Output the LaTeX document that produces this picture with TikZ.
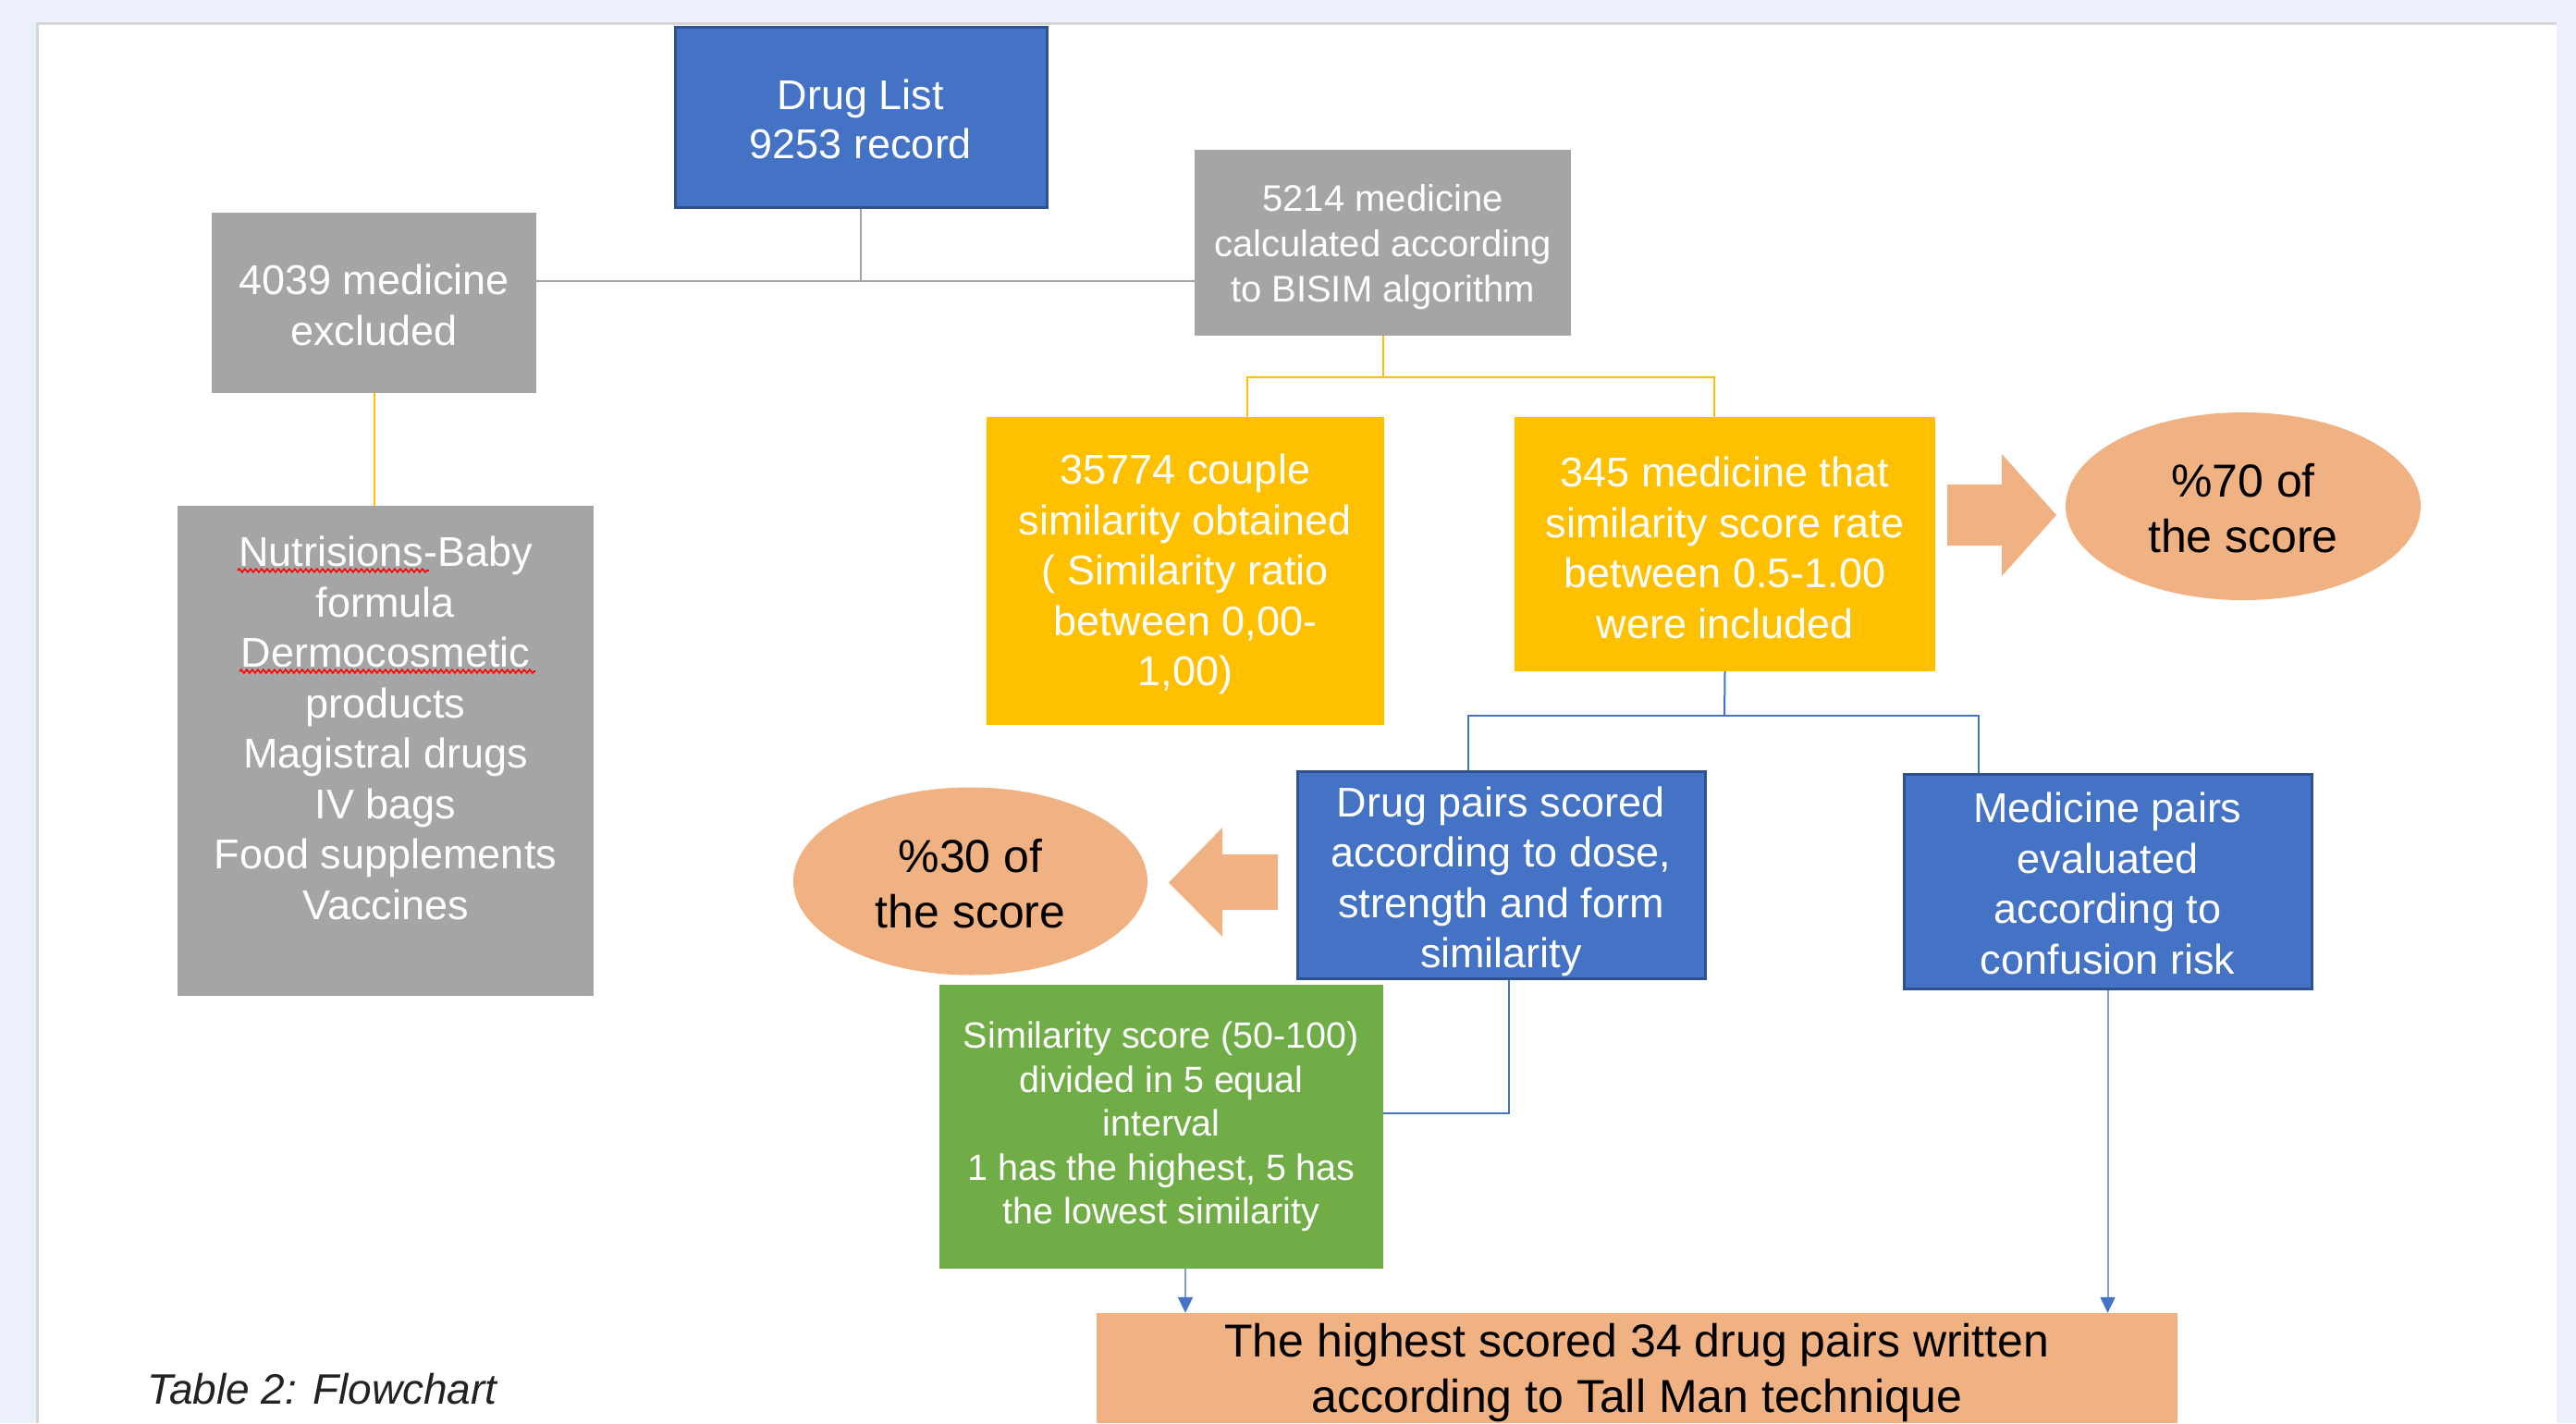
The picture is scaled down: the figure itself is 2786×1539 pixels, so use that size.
\documentclass[tikz,border=0pt]{standalone}
\usepackage{fontspec}
\setmainfont{Liberation Sans}
\usetikzlibrary{shapes.geometric,arrows.meta,decorations.pathmorphing}
\definecolor{bgblue}{HTML}{ECF0FA}
\definecolor{pageedge}{HTML}{D6D6D6}
\definecolor{offblue}{HTML}{4472C4}
\definecolor{offblueedge}{HTML}{2F528F}
\definecolor{offgray}{HTML}{A5A5A5}
\definecolor{offyellow}{HTML}{FFC000}
\definecolor{offorange}{HTML}{F0B183}
\definecolor{offgreen}{HTML}{70AD47}
\definecolor{lightlink}{HTML}{7C9EDC}
\definecolor{captiongray}{HTML}{222222}
\newcommand\tp[1]{\rule{0pt}{#1}}
\tikzset{
  box/.style={rectangle, inner sep=0pt, align=center, text=white, font=\fontsize{45}{54.5}\selectfont},
  bluebox/.style={box, fill=offblue, draw=offblueedge, line width=3pt},
  graybox/.style={box, fill=offgray},
  yellowbox/.style={box, fill=offyellow},
  greenbox/.style={box, fill=offgreen},
  blob/.style={ellipse, inner sep=0pt, fill=offorange, align=center, text=black, font=\fontsize{50}{60}\selectfont},
  fatarrow/.style={fill=offorange},
  grayline/.style={draw=offgray, line width=2pt},
  yellowline/.style={draw=offyellow, line width=2pt},
  blueline/.style={draw=offblue, line width=2pt},
  flowarrow/.style={draw=lightlink, line width=2pt, -{Triangle[length=17pt,width=16pt,color=offblue]}},
  squiggle/.style={draw=red, line width=1.6pt, decorate, decoration={snake, amplitude=1.8pt, segment length=6pt}}
}
\begin{document}
\begin{tikzpicture}[x=1pt,y=-1pt]
\useasboundingbox (0,0) rectangle (2786,1539);
% page
\fill[bgblue] (0,0) rectangle (2786,1539);
\fill[white] (40,25) rectangle (2765,1539);
\draw[pageedge, line width=2.5pt] (40.5,1539) -- (40.5,25.5) -- (2765,25.5);

% boxes
\node[bluebox, minimum width=402pt, minimum height=195pt, font=\fontsize{45}{53.5}\selectfont] (drug) at (931,126.5) {\tp{37pt}Drug List\\9253 record};
\node[graybox, minimum width=351pt, minimum height=195pt] (excl) at (404.5,327.5) {\tp{37pt}4039 medicine\\excluded};
\node[graybox, minimum width=407pt, minimum height=201pt, font=\fontsize{40}{49}\selectfont] (bisim) at (1495.5,262.5) {\tp{39pt}5214 medicine\\calculated according\\to BISIM algorithm};
\node[yellowbox, minimum width=430pt, minimum height=333pt] (couple) at (1282,617.5) {\tp{40pt}35774 couple\\similarity obtained\\( Similarity ratio\\between 0,00-\\1,00)};
\node[yellowbox, minimum width=455pt, minimum height=275pt] (incl) at (1865.5,588.5) {\tp{40pt}345 medicine that\\similarity score rate\\between 0.5-1.00\\were included};
\node[graybox, minimum width=450pt, minimum height=530pt] (list) at (417,812) {\tp{37pt}Nutrisions-Baby\\formula\\Dermocosmetic\\products\\Magistral drugs\\IV bags\\Food supplements\\Vaccines\\~};
\node[blob, minimum width=384pt, minimum height=203pt] (pct70) at (2426,547.5) {\tp{40.5pt}\%70 of\\the score};
\node[bluebox, minimum width=441pt, minimum height=224pt] (drugpairs) at (1623.5,946) {\tp{47pt}Drug pairs scored\\according to dose,\\strength and form\\similarity};
\node[bluebox, minimum width=441pt, minimum height=232pt] (medpairs) at (2279.5,953) {\tp{37pt}Medicine pairs\\evaluated\\according to\\confusion risk};
\node[blob, minimum width=383pt, minimum height=203pt] (pct30) at (1049.5,953) {\tp{40.5pt}\%30 of\\the score};
\node[greenbox, minimum width=480pt, minimum height=307pt, font=\fontsize{39.5}{47.5}\selectfont] (green) at (1256,1218.5) {Similarity score (50-100)\\divided in 5 equal\\interval\\1 has the highest, 5 has\\the lowest similarity};
\node[box, fill=offorange, text=black, minimum width=1169pt, minimum height=119pt, font=\fontsize{50}{60}\selectfont] (tallman) at (1770.5,1479.5) {\tp{46.5pt}The highest scored 34 drug pairs written\\according to Tall Man technique};
\node[anchor=base west, inner sep=0pt, text=captiongray, font=\fontsize{46}{55}\selectfont\itshape] (caption) at (159,1518) {Table 2: Flowchart};

% spell-check squiggles
\draw[squiggle] (257,617) -- (464,617);
\draw[squiggle] (259,726) -- (579,726);

% block arrows
\path[fatarrow] (2106,524) -- (2165,524) -- (2165,491) -- (2224,557) -- (2165,623) -- (2165,590) -- (2106,590) -- cycle;
\path[fatarrow] (1382,924) -- (1322,924) -- (1322,895) -- (1264,954.5) -- (1322,1013) -- (1322,984) -- (1382,984) -- cycle;

% connectors
\coordinate (j1) at (931,303.5);
\draw[grayline] (drug.south) -- (j1);
\draw[grayline] (excl.east |- j1) -- (bisim.west |- j1);
\draw[yellowline] (excl.south) -- (excl.south |- list.north);

\coordinate (j2a) at (1349,408);
\coordinate (j2b) at (1854,408);
\draw[yellowline] (bisim.south) -- (bisim.south |- j2a);
\draw[yellowline] (j2a |- couple.north) -- (j2a) -- (j2b) -- (j2b |- incl.north);

\coordinate (j3) at (1865,774);
\coordinate (j3a) at (1588,774);
\coordinate (j3b) at (2140,774);
\draw[blueline] (incl.south) -- (j3);
\draw[blueline] (j3a |- drugpairs.north) -- (j3a) -- (j3b) -- (j3b |- medpairs.north);

\coordinate (j4) at (1631.5,1204);
\draw[blueline] (j4 |- drugpairs.south) -- (j4) -- (green.east |- j4);

\coordinate (j5) at (1282,0);
\draw[flowarrow] (j5 |- green.south) -- (j5 |- tallman.north);
\draw[flowarrow] (medpairs.south) -- (medpairs.south |- tallman.north);
\end{tikzpicture}
\end{document}
